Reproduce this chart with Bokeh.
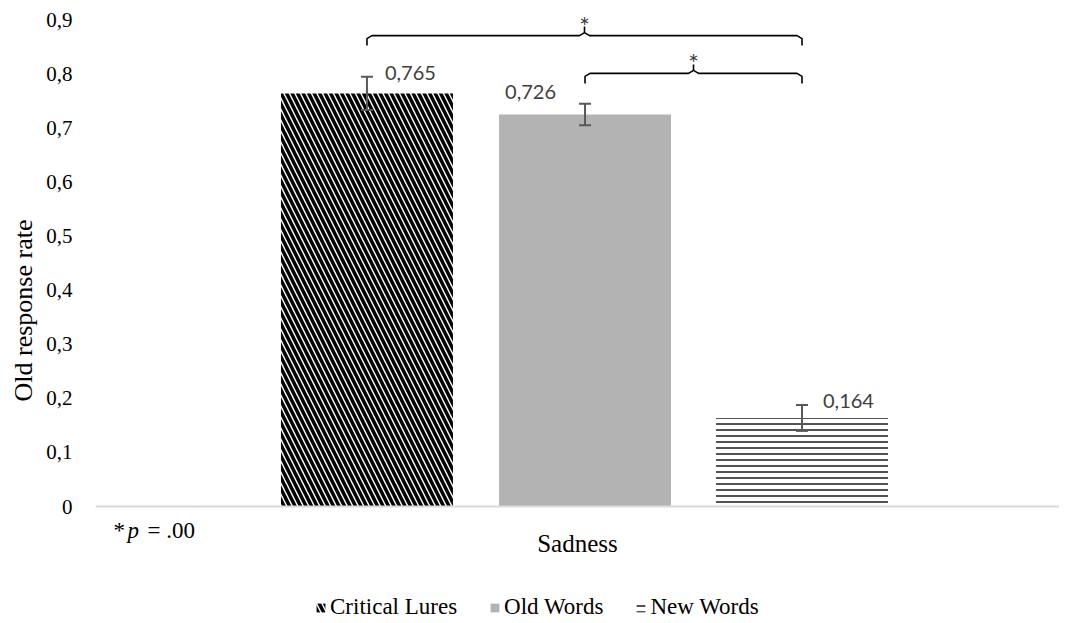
from bokeh.plotting import figure
from bokeh.models import (FactorRange, Range1d, FixedTicker, CustomJSTickFormatter, ColumnDataSource,
                          Whisker, TeeHead, Label, Legend, LegendItem)
from bokeh.transform import dodge
from bokeh.embed import file_html
from bokeh.resources import INLINE

# ---- data ----
category = ["Sadness"]
series = ["Critical Lures", "Old Words", "New Words"]
values = [0.765, 0.726, 0.164]
errors = [0.031, 0.020, 0.024]
value_labels = ["0,765", "0,726", "0,164"]
y_ticks = [0, 0.1, 0.2, 0.3, 0.4, 0.5, 0.6, 0.7, 0.8, 0.9]
note_text = ["*", "p", "= .00"]
y_title = "Old response rate"

# ---- layout constants ----
FW = 964
offsets = [-0.2184, 0.0078, 0.2329]
bar_w = 0.1784
SERIF = "'Liberation Serif', serif"
SANS = "Lato"

# frame spans the whole canvas height; the x axis is pinned at y = 0
p = figure(x_range=FactorRange(*category, range_padding=0), y_range=Range1d(-0.2111, 0.937),
           frame_width=FW, frame_height=620, output_backend="svg", toolbar_location=None,
           min_border_left=95, min_border_right=0, min_border_top=0, min_border_bottom=0)
p.outline_line_color = None
p.grid.grid_line_color = None
p.background_fill_color = "white"
p.border_fill_color = "white"

# y axis
ya = p.yaxis[0]
ya.ticker = FixedTicker(ticks=y_ticks)
ya.formatter = CustomJSTickFormatter(code="return tick === 0 ? '0' : tick.toFixed(1).replace('.', ',');")
ya.axis_line_color = None
ya.major_tick_line_color = None
ya.minor_tick_line_color = None
ya.major_tick_out = 0
ya.minor_tick_out = 0
ya.major_label_text_font = SERIF
ya.major_label_text_font_size = "21px"
ya.major_label_text_color = "#000000"
ya.major_label_standoff = 23
ya.axis_label = y_title
ya.axis_label_text_font = SERIF
ya.axis_label_text_font_size = "26px"
ya.axis_label_text_font_style = "normal"
ya.axis_label_text_color = "#000000"
ya.axis_label_standoff = 5

# x axis
xa = p.xaxis[0]
xa.fixed_location = 0
xa.axis_line_color = "#d9d9d9"
xa.axis_line_width = 2
xa.major_tick_line_color = None
xa.minor_tick_line_color = None
xa.major_tick_out = 0
xa.major_label_text_font = SERIF
xa.major_label_text_font_size = "25px"
xa.major_label_text_color = "#000000"
xa.major_label_standoff = 23

styles = [
    dict(fill_color="white", hatch_pattern="\\", hatch_color="black", hatch_weight=3.5, hatch_scale=11),
    dict(fill_color="#b3b3b3"),
    dict(fill_color="white", hatch_pattern="-", hatch_color="#262626", hatch_weight=1.6, hatch_scale=6),
]

renderers = []
for i, name in enumerate(series):
    src = ColumnDataSource(dict(cat=category, top=[values[i]],
                                upper=[values[i] + errors[i]], lower=[values[i] - errors[i]]))
    r = p.vbar(x=dodge("cat", offsets[i], range=p.x_range), top="top", width=bar_w, source=src,
               line_color=None, **styles[i])
    renderers.append(r)
    w = Whisker(base=dodge("cat", offsets[i], range=p.x_range), upper="upper", lower="lower", source=src,
                line_color="#595959", line_width=2, level="overlay",
                upper_head=TeeHead(size=12, line_color="#595959", line_width=2),
                lower_head=TeeHead(size=12, line_color="#595959", line_width=2))
    p.add_layout(w)

# value labels
lab_pos = [(0.5 + offsets[0], values[0] + errors[0], 18, 4, "left"),
           (0.5 + offsets[1], values[1] + errors[1], -29, 12, "right"),
           (0.5 + offsets[2], values[2] + errors[2], 21, 4, "left")]
for (x, y, xo, yo, al), t in zip(lab_pos, value_labels):
    p.add_layout(Label(x=x, y=y, x_offset=xo, y_offset=yo, text=t, text_font=SANS,
                       text_font_size="20px", text_color="#404040", text_align=al,
                       text_baseline="middle"))

# significance brackets
px_x = 1.0 / FW
px_y = 0.1 / 54.0

def bracket(x1, x2, y, asterisk):
    xm = (x1 + x2) / 2
    hook = 10
    spike = 9
    r = 5
    xs = [x1, x1, x1 + r * px_x, xm - r * px_x, xm, xm, xm, xm + r * px_x, x2 - r * px_x, x2, x2]
    ys = [y - hook * px_y, y - 3 * px_y, y, y, y + 3 * px_y, y + spike * px_y,
          y + 3 * px_y, y, y, y - 3 * px_y, y - hook * px_y]
    p.line(xs, ys, line_color="black", line_width=1.6)
    p.add_layout(Label(x=xm, y=y + spike * px_y, y_offset=1, text=asterisk, text_font=SANS,
                       text_font_size="25px", text_color="#404040", text_align="center",
                       text_baseline="middle"))

bracket(0.5 + offsets[0], 0.5 + offsets[2], 0.872, "*")
bracket(0.5 + offsets[1], 0.5 + offsets[2], 0.802, "*")

# note "* p = .00" (screen units from the frame's bottom-left corner)
ny = 90
p.add_layout(Label(x=18, y=ny, x_units="screen", y_units="screen", text=note_text[0], text_font=SERIF,
                   text_font_size="23px", text_baseline="middle", text_color="#000000"))
p.add_layout(Label(x=32, y=ny, x_units="screen", y_units="screen", text=note_text[1], text_font=SERIF,
                   text_font_size="23px", text_font_style="italic", text_baseline="middle",
                   text_color="#000000"))
p.add_layout(Label(x=52, y=ny, x_units="screen", y_units="screen", text=note_text[2], text_font=SERIF,
                   text_font_size="23px", text_baseline="middle", text_color="#000000"))

legend = Legend(items=[LegendItem(label=n, renderers=[r]) for n, r in zip(series, renderers)],
                orientation="horizontal", location=(220, 0), border_line_color=None,
                label_text_font=SERIF, label_text_font_size="23px", label_text_color="#000000",
                glyph_width=11, glyph_height=11, spacing=32, padding=0, margin=0,
                label_standoff=4, background_fill_alpha=0)
p.add_layout(legend, "center")

open("out.html", "w").write(file_html(p, INLINE))
